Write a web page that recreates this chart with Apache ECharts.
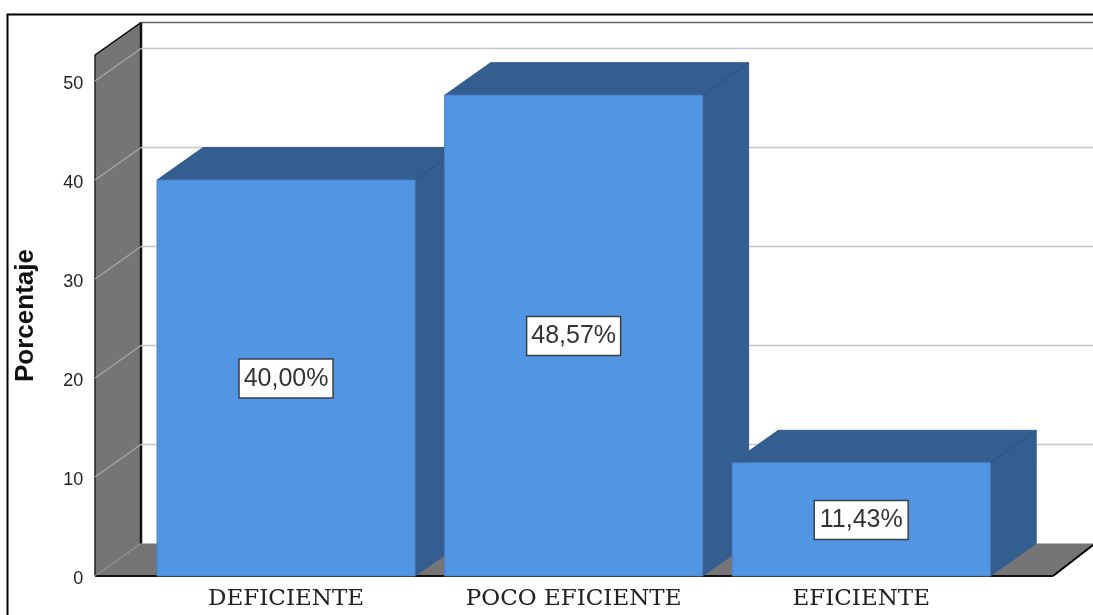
<!DOCTYPE html>
<html><head><meta charset="utf-8">
<style>html,body{margin:0;padding:0;background:#fff}#c{width:1093px;height:615px}</style>
<script src="https://cdn.jsdelivr.net/npm/echarts@6/dist/echarts.min.js"></script>
</head><body><div id="c"></div>
<script>
const categories = ['DEFICIENTE', 'POCO EFICIENTE', 'EFICIENTE'];
const percentages = [40.00, 48.57, 11.43];
const labels = ['40,00%', '48,57%', '11,43%'];
const gridTicks = [0, 10, 20, 30, 40, 50];
const axisTop = 52.63;

const DX = 46, DY = -32.5;
const FRONT = '#5295e3', DARK = '#345d90', EDGE = '#2b4f7e', WALL = '#757575';
const LEFT_X = 95, RIGHT_X = 1053;

function poly(points, fill, stroke, w) {
  return {type: 'polygon', shape: {points}, style: {fill, stroke: stroke || null, lineWidth: w || 0}};
}
function seg(x1, y1, x2, y2, stroke, w, dash) {
  return {type: 'line', shape: {x1, y1, x2, y2}, style: {stroke, lineWidth: w, lineDash: dash || null}};
}

const chart = echarts.init(document.getElementById('c'), null, {renderer: 'canvas'});
chart.setOption({
  animation: false,
  backgroundColor: '#fff',
  grid: {left: 142.25, right: 88, top: 55, bottom: 39},
  xAxis: {
    type: 'category', data: categories,
    axisLine: {show: false}, axisTick: {show: false},
    axisLabel: {margin: 12, color: '#222', fontFamily: 'DejaVu Serif', fontSize: 23}
  },
  yAxis: {
    type: 'value', min: 0, max: axisTop, interval: 10, offset: 47,
    axisLine: {show: false}, axisTick: {show: false}, splitLine: {show: false},
    axisLabel: {
      margin: 12, showMaxLabel: false, formatter: '{a|{value}}',
      rich: {a: {color: '#222', fontFamily: 'Liberation Sans', fontSize: 18, padding: [6, 0, 0, 0]}}
    },
    name: 'Porcentaje', nameLocation: 'middle', nameGap: 56, nameRotate: 90,
    nameTextStyle: {fontFamily: 'Liberation Sans', fontWeight: 'bold', fontSize: 26, color: '#111'}
  },
  graphic: [{
    type: 'polyline', silent: true,
    shape: {points: [[7.5, 640], [7.5, 14.5], [1100, 14.5]]},
    style: {fill: null, stroke: '#000', lineWidth: 2}
  }],
  series: [{
    type: 'custom', clip: false, z: 1, silent: true,
    coordinateSystem: 'cartesian2d',
    data: gridTicks.map(v => [0, v]),
    renderItem(params, api) {
      const y = api.coord([0, api.value(1)])[1];
      const v = api.value(1);
      const top = api.coord([0, axisTop])[1];
      const base = api.coord([0, 0])[1];
      const children = [];
      if (v === 0) {
        children.push(poly([[LEFT_X, top], [LEFT_X + DX, top + DY], [LEFT_X + DX, base + DY], [LEFT_X, base]], WALL));
        children.push(poly([[LEFT_X, base], [LEFT_X + DX, base + DY], [1093, base + DY], [1093, base - 31], [RIGHT_X, base]], WALL));
        children.push(seg(LEFT_X + DX, top + DY, 1100, top + DY, '#666', 1.5));
        children.push(seg(LEFT_X + DX, top + DY, LEFT_X + DX, base + DY, '#111', 2.5));
        children.push(seg(LEFT_X, top, LEFT_X, base, '#222', 1.5));
        children.push(seg(LEFT_X, top, LEFT_X + DX, top + DY, '#000', 1.5));
        children.push(seg(LEFT_X, base, RIGHT_X, base, '#111', 2));
        children.push(seg(RIGHT_X, base, 1093, base - 31, '#000', 2));
        children.push(seg(LEFT_X, base, LEFT_X + DX, base + DY, '#aaa', 1, [2, 2]));
      } else {
        children.push(seg(LEFT_X, y, LEFT_X + DX, y + DY, '#a9a9a9', 1.2));
        children.push(seg(LEFT_X + DX, y + DY, 1100, y + DY, '#c8c8c8', 1.5));
      }
      return {type: 'group', children};
    }
  }, {
    type: 'custom', clip: false, z: 2, silent: true,
    coordinateSystem: 'cartesian2d',
    data: percentages.map((v, i) => [i, v, labels[i]]),
    encode: {x: 0, y: 1},
    renderItem(params, api) {
      const i = api.value(0), v = api.value(1);
      const c = api.coord([i, v]);
      const b = api.coord([i, 0]);
      const w = 258;
      const l = c[0] - w / 2, r = c[0] + w / 2, t = c[1], bo = b[1];
      return {type: 'group', children: [
        poly([[r, t], [r + DX, t + DY], [r + DX, bo + DY], [r, bo]], DARK, DARK, 1),
        poly([[l, t], [l + DX, t + DY], [r + DX, t + DY], [r, t]], DARK, DARK, 1),
        seg(r, t, r + DX, t + DY, EDGE, 1),
        {type: 'rect', shape: {x: l, y: t, width: w, height: bo - t},
         style: {fill: FRONT, stroke: '#4a84c8', lineWidth: 1}},
        {type: 'rect', shape: {x: c[0] - 47, y: (t + bo) / 2 - 19, width: 94, height: 39},
         style: {fill: '#fff', stroke: '#3a3f4a', lineWidth: 1.5}},
        {type: 'text', style: {text: labels[i], x: c[0], y: (t + bo) / 2 + 1,
          align: 'center', verticalAlign: 'middle',
          font: '25px "Liberation Sans"', fill: '#333'}}
      ]};
    }
  }]
});
</script></body></html>
